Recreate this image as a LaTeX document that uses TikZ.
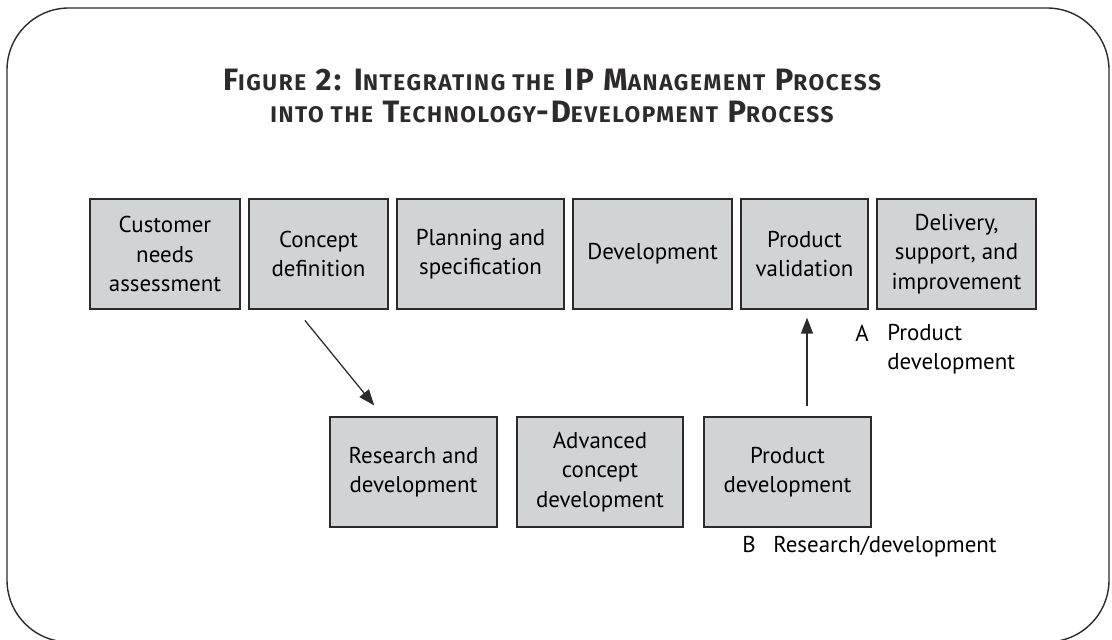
\documentclass[tikz,border=0pt]{standalone}
\usepackage{fontspec}
\setmainfont{PT Sans}
\newfontfamily\headfont[LetterSpace = 7]{Fira Sans}
\usetikzlibrary{arrows.meta}
\definecolor{boxgray}{RGB}{209,211,212}
\definecolor{linegray}{RGB}{45,42,43}
% small caps for the heading, made by hand
\newcommand\smc[1]{{\fontsize{16.1pt}{18pt}\selectfont #1}}
\begin{document}
\begin{tikzpicture}[
  stage/.style = {draw = linegray, line width = 0.9pt, fill = boxgray, minimum height = 2.75cm, inner sep = 0pt, align = center, font = \fontsize{16.3pt}{21pt}\selectfont},
  arr/.style = {-{Triangle[length = 0.4cm, width = 0.3cm]}, draw = linegray, line width = 0.9pt},
  note/.style = {anchor = base west, inner sep = 0pt, font = \fontsize{16.3pt}{21pt}\selectfont}
]
\useasboundingbox (0,0) rectangle (27.8,16);
\draw[linegray, line width = 1pt, rounded corners = 1.55cm] (0.175,-0.05) rectangle (27.725,15.8);
\node[font = \headfont\bfseries\fontsize{22pt}{22.8pt}\selectfont, color = linegray, align = center, inner sep = 0pt, anchor = base] (title) at (13.8,12.925)
  {F\smc{IGURE} 2: I\smc{NTEGRATING THE} IP M\smc{ANAGEMENT} P\smc{ROCESS}\\
   \smc{INTO THE} T\smc{ECHNOLOGY}-D\smc{EVELOPMENT} P\smc{ROCESS}};
% top row
\node[stage, minimum width = 3.75cm] (cust) at (4.125,9.65) {Customer\\needs\\assessment};
\node[stage, minimum width = 3.475cm] (concept) at (7.9625,9.65) {Concept\\definition};
\node[stage, minimum width = 4.175cm] (plan) at (12.0125,9.65) {Planning and\\specification};
\node[stage, minimum width = 3.975cm] (devel) at (16.3125,9.65) {Development};
\node[stage, minimum width = 3.175cm] (valid) at (20.1125,9.65) {Product\\validation};
\node[stage, minimum width = 3.975cm] (deliver) at (23.9125,9.65) {Delivery,\\support, and\\improvement};
% bottom row
\node[stage, minimum width = 4.175cm] (rnd) at (10.3375,4.2) {Research and\\development};
\node[stage, minimum width = 4.15cm] (adv) at (15,4.2) {Advanced\\concept\\development};
\node[stage, minimum width = 4.175cm] (proddev) at (19.6875,4.2) {Product\\development};
% arrows
\draw[arr, shorten < = 0.35cm, shorten > = 0.35cm] ([xshift = -0.56cm]concept.south) -- ([xshift = -0.76cm]rnd.north);
\coordinate (upx) at (20.175,0);
\draw[arr, shorten < = 0.25cm, shorten > = 0.2cm] (proddev.north -| upx) -- (valid.south -| upx);
% labels
\node[note] (markA) at (21.375,7.45) {A};
\node[note, align = left] (textA) at (22.175,6.75) {Product\\development};
\node[note] (markB) at (18.55,2.175) {B};
\node[note] (textB) at (19.325,2.175) {Research/development};
\end{tikzpicture}
\end{document}
